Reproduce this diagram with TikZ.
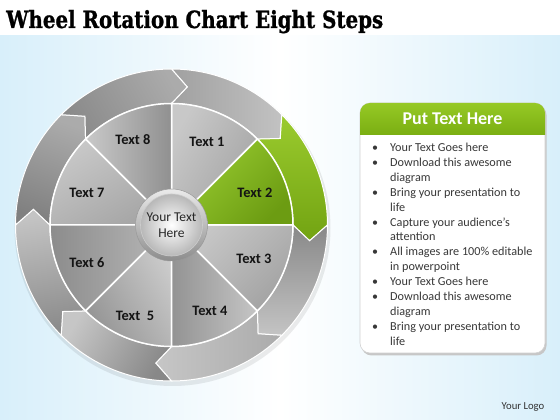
\documentclass[tikz,border=0pt]{standalone}
\usepackage{fontspec}
\usepackage{graphicx}
\setmainfont{Carlito}
\newfontfamily\titlefont[BoldFeatures={FakeBold=1.2}]{DejaVu Serif}
\definecolor{bgblue}{HTML}{D8EFFA}
\definecolor{hdrtop}{HTML}{96C925}
\definecolor{hdrbot}{HTML}{7AAE12}
\begin{document}
\begin{tikzpicture}[x=1pt,y=1pt,
  seclbl/.style={font=\bfseries\fontsize{14.4}{16}\selectfont, text=black!92},
  bullettext/.style={anchor=base west, inner sep=0pt, font=\fontsize{12.2}{14}\selectfont, text=black!78},
  bulletdot/.style={anchor=base, inner sep=0pt, font=\fontsize{12}{14}\selectfont, text=black!78},
  ringseg/.style={draw=white, line width=1pt},
  pieseg/.style={draw=white, line width=1.5pt}]
\useasboundingbox (0,0) rectangle (560,420);
\fill[white] (0,0) rectangle (560,420);
\shade[left color=bgblue, right color=bgblue, middle color=white] (0,0) rectangle (560,384);
% title
\node[anchor=base west, inner sep=0pt] (title) at (6,392) {\resizebox{377pt}{18pt}{\titlefont\bfseries Wheel Rotation Chart Eight Steps}};
% wheel
\coordinate (C) at (171.5,195);
\fill[black, opacity=0.08] (172.5,192) circle[radius=158pt];
\foreach \a/\ca/\cb/\sa in {90/C2C2C2/A0A0A0/-90, 45/9BCB2E/72A312/0, 0/888888/C4C4C4/0, -45/C6C6C6/ABABAB/90, -90/C6C6C6/888888/60, -135/C4C4C4/8A8A8A/10, 180/ABABAB/808080/-20, 135/ABABAB/8A8A8A/-60} {
  \pgfmathsetmacro\b{\a-45}
  \pgfmathsetmacro\t{\a-51.5}
  \pgfmathsetmacro\n{\a-6.5}
  \definecolor{tmpA}{HTML}{\ca}\definecolor{tmpB}{HTML}{\cb}
  \shadedraw[ringseg, shift={(C)}, top color=tmpA, bottom color=tmpB, shading angle=\sa]
    (\a:156pt) arc[start angle=\a, end angle=\b, radius=156pt] -- (\t:139pt) -- (\b:121.5pt)
    arc[start angle=\b, end angle=\a, radius=121.5pt] -- (\n:139pt) -- cycle;
}
\foreach \s/\ca/\cb/\sa in {45/C8C8C8/A2A2A2/60, 90/C9C9C9/909090/90, 135/C8C8C8/A5A5A5/30, 180/B8B8B8/8C8C8C/-90, 225/CDCDCD/959595/-60, 270/C5C5C5/939393/-90, 315/C9C9C9/A3A3A3/45, 0/9ACD32/6C9C12/45} {
  \pgfmathsetmacro\e{\s+45}
  \definecolor{tmpA}{HTML}{\ca}\definecolor{tmpB}{HTML}{\cb}
  \shadedraw[pieseg, shift={(C)}, top color=tmpA, bottom color=tmpB, shading angle=\sa]
    (0,0) -- (\s:121.5pt) arc[start angle=\s, end angle=\e, radius=121.5pt] -- cycle;
}
\shadedraw[draw=black!40, line width=0.5pt, top color=black!8, bottom color=black!45, shift={(C)}] (0,0) circle[radius=36pt];
\shadedraw[draw=white!80!black, line width=0.6pt, inner color=white, outer color=black!28, shift={(C)}] (0,0) circle[radius=31pt];
\node[font=\fontsize{13.5}{16}\selectfont, align=center, text=black!85] (ctr) at (C) {Your Text\\Here};
\node[seclbl] (t1) at (207,278) {Text 1};
\node[seclbl] (t2) at (255,227) {Text 2};
\node[seclbl] (t3) at (254,161) {Text 3};
\node[seclbl] (t4) at (210,109) {Text 4};
\node[seclbl] (t5) at (135,104) {Text\ \ 5};
\node[seclbl] (t6) at (87,157) {Text 6};
\node[seclbl] (t7) at (87,227) {Text 7};
\node[seclbl] (t8) at (133,280) {Text 8};
% panel
\fill[black!22, rounded corners=10pt] (361.5,64.5) rectangle (546.5,315);
\filldraw[fill=white, draw=black!18, line width=0.6pt, rounded corners=10pt] (360,67) rectangle (545,317);
\shade[top color=hdrtop, bottom color=hdrbot] (360,285) -- (360,307) arc[start angle=180, end angle=90, radius=10pt] -- (535,317) arc[start angle=90, end angle=0, radius=10pt] -- (545,285) -- cycle;
\node[font=\bfseries\fontsize{18}{20}\selectfont, text=white] (hdr) at (452.5,301) {Put Text Here};
\foreach \i/\b/\t in {0/1/Your Text Goes here, 1/1/Download this awesome, 2/0/diagram, 3/1/Bring your presentation to, 4/0/life, 5/1/Capture your audience’s, 6/0/attention, 7/1/All images are 100\% editable, 8/0/in powerpoint, 9/1/Your Text Goes here, 10/1/Download this awesome, 11/0/diagram, 12/1/Bring your presentation to, 13/0/life} {
  \pgfmathsetmacro\yy{268.3-14.87*\i}
  \node[bullettext] (ln\i) at (390,\yy) {\t};
  \ifnum\b=1 \node[bulletdot] (bu\i) at (375,\yy) {\textbullet}; \fi
}
\node[font=\fontsize{10.7}{12}\selectfont, text=black!80] (logo) at (523,13) {Your Logo};
\end{tikzpicture}
\end{document}
